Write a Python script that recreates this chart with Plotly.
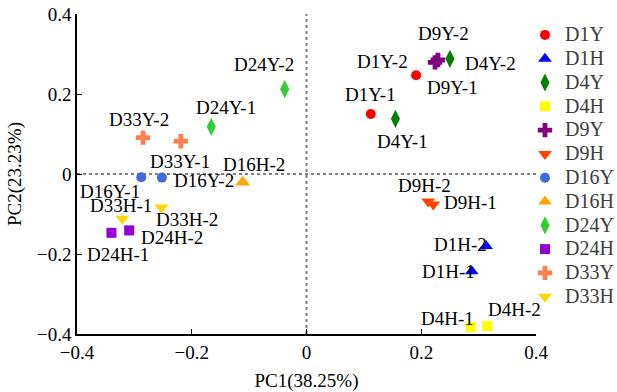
import plotly.graph_objects as go

groups = ["D1Y", "D1H", "D4Y", "D4H", "D9Y", "D9H", "D16Y", "D16H", "D24Y", "D24H", "D33Y", "D33H"]
pc1 = {
    "D1Y": [0.112, 0.191], "D1H": [0.288, 0.313], "D4Y": [0.155, 0.250], "D4H": [0.286, 0.315],
    "D9Y": [0.224, 0.229], "D9H": [0.221, 0.212], "D16Y": [-0.288, -0.252], "D16H": [-0.112, -0.111],
    "D24Y": [-0.166, -0.038], "D24H": [-0.340, -0.309], "D33Y": [-0.219, -0.285], "D33H": [-0.321, -0.253],
}
pc2 = {
    "D1Y": [0.150, 0.247], "D1H": [-0.243, -0.180], "D4Y": [0.138, 0.288], "D4H": [-0.383, -0.380],
    "D9Y": [0.279, 0.285], "D9H": [-0.076, -0.069], "D16Y": [-0.008, -0.009], "D16H": [-0.021, -0.020],
    "D24Y": [0.118, 0.212], "D24H": [-0.147, -0.141], "D33Y": [0.082, 0.091], "D33H": [-0.112, -0.084],
}
tick_vals = [-0.4, -0.2, 0, 0.2, 0.4]

colors = {"D1Y": "#FF0000", "D1H": "#0000FF", "D4Y": "#007F00", "D4H": "#FFFF00", "D9Y": "#800080",
          "D9H": "#FF4500", "D16Y": "#4169E1", "D16H": "#FFA500", "D24Y": "#32CD32", "D24H": "#9400D3",
          "D33Y": "#FF7F50", "D33H": "#FFD700"}
symbols = {"D1Y": "circle", "D1H": "triangle-up", "D4Y": "diamond-tall", "D4H": "square", "D9Y": "cross",
           "D9H": "triangle-down", "D16Y": "circle", "D16H": "triangle-up", "D24Y": "diamond-tall",
           "D24H": "square", "D33Y": "cross", "D33H": "triangle-down"}
sizes = {"circle": 10, "triangle-up": 12, "triangle-down": 12, "diamond-tall": 13, "square": 10, "cross": 12}

# label pixel offsets (dx, dy) for replicate 1 and 2; None = hidden
offsets = {
    "D1Y": [(0, 20), (-34, 14)], "D1H": [(-23, 0), (-26, 2)], "D4Y": [(7, -23), (41, -5)],
    "D4H": [(-23, 9), (27, 17)], "D9Y": [(17, -25), (6, 27)], "D9H": [(37, 2), (-4, 16)],
    "D16Y": [(-31, -14), (42, -3)], "D16H": [None, (11, 18)], "D24Y": [(15, 19), (-21, 25)],
    "D24H": [(7, -22), (43, -7)], "D33Y": [(-1, -20), (-4, 18)], "D33H": [(-1, 13), (26, -12)],
}

font = "Liberation Serif, Times New Roman, serif"
fig = go.Figure()
for g in groups:
    fig.add_trace(go.Scatter(
        x=pc1[g], y=pc2[g], mode="markers", name=f"<span style='font-size:20px'>{g}</span>",
        marker=dict(color=colors[g], symbol=symbols[g], size=sizes[symbols[g]], line=dict(width=0)),
    ))

annotations = []
for g in groups:
    for i in range(2):
        off = offsets[g][i]
        if off is None:
            continue
        annotations.append(dict(x=pc1[g][i], y=pc2[g][i], text=f"{g}-{i+1}", showarrow=False,
                                xshift=off[0], yshift=off[1], font=dict(family=font, size=19, color="black")))

fig.update_layout(
    width=617, height=392,
    margin=dict(l=77, r=81, t=14, b=58, autoexpand=False),
    plot_bgcolor="white", paper_bgcolor="white",
    font=dict(family=font, size=18, color="black"),
    annotations=annotations,
    showlegend=True,
    legend=dict(x=0.976, y=0.9875, xanchor="left", yanchor="top", bgcolor="rgba(0,0,0,0)",
                font=dict(family=font, size=16, color="#404040"), itemwidth=30, tracegroupgap=0),
    shapes=[
        dict(type="line", xref="x", yref="paper", x0=0, x1=0, y0=0, y1=1,
             line=dict(color="#808080", width=2, dash="dot"), layer="below"),
        dict(type="line", xref="paper", yref="y", x0=0, x1=1, y0=0, y1=0,
             line=dict(color="#808080", width=2, dash="dot"), layer="below"),
    ],
)
fig.update_xaxes(range=[-0.4, 0.4], tickvals=tick_vals, showgrid=False, zeroline=False, automargin=False,
                 showline=True, linecolor="black", linewidth=1.5, ticks="inside", ticklen=5,
                 tickcolor="black", title=dict(text="PC1(38.25%)", font=dict(size=19), standoff=12),
                 tickfont=dict(size=19))
fig.update_yaxes(range=[-0.4, 0.4], tickvals=tick_vals, showgrid=False, zeroline=False, automargin=False,
                 showline=True, linecolor="black", linewidth=1.5, ticks="inside", ticklen=5,
                 tickcolor="black", title=dict(text="PC2(23.23%)", font=dict(size=19), standoff=10),
                 tickfont=dict(size=19))

fig.write_html("out.html", config={"displayModeBar": False},
               post_script="document.body.style.margin='0';")
